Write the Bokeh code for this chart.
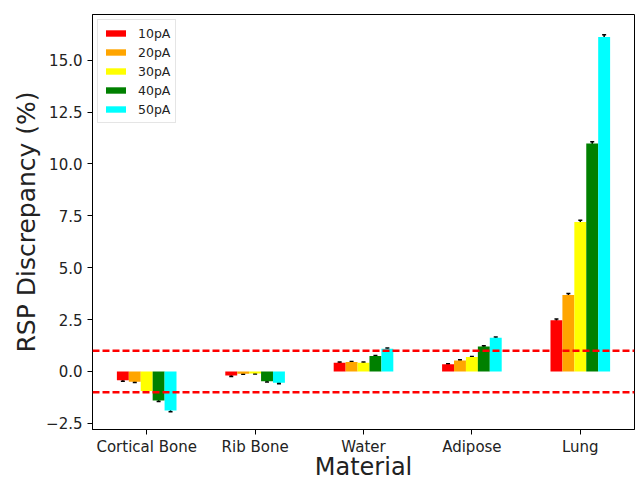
from bokeh.plotting import figure
from bokeh.models import ColumnDataSource, FixedTicker, Whisker, Span, Legend, LegendItem, TeeHead, Range1d
from bokeh.embed import file_html
from bokeh.resources import INLINE

materials = ["Cortical Bone", "Rib Bone", "Water", "Adipose", "Lung"]
series = ["10pA", "20pA", "30pA", "40pA", "50pA"]
colors = ["red", "orange", "yellow", "green", "cyan"]
v10 = [-0.43, -0.20, 0.42, 0.34, 2.46]
v20 = [-0.50, -0.11, 0.45, 0.53, 3.68]
v30 = [-0.95, -0.10, 0.42, 0.69, 7.20]
v40 = [-1.40, -0.47, 0.74, 1.20, 10.98]
v50 = [-1.88, -0.55, 1.09, 1.62, 16.12]
e10 = [0.04, 0.04, 0.03, 0.03, 0.06]
e20 = [0.04, 0.03, 0.03, 0.03, 0.07]
e30 = [0.05, 0.03, 0.03, 0.03, 0.08]
e40 = [0.05, 0.04, 0.03, 0.04, 0.09]
e50 = [0.06, 0.04, 0.04, 0.04, 0.10]
yticks = [-2.5, 0.0, 2.5, 5.0, 7.5, 10.0, 12.5, 15.0]
thresholds = [1.0, -1.0]

values = [v10, v20, v30, v40, v50]
errors = [e10, e20, e30, e40, e50]
bw = 0.11

p = figure(width=635, height=483, output_backend="svg", toolbar_location=None,
           x_range=Range1d(-0.5, 4.5), y_range=Range1d(-2.8, 17.2),
           min_border_left=92, min_border_right=1, min_border_top=14, min_border_bottom=54)

items = []
for k, (name, col, vals, errs) in enumerate(zip(series, colors, values, errors)):
    xs = [i + (k - 2) * bw for i in range(len(materials))]
    src = ColumnDataSource(dict(x=xs, top=vals,
                                up=[v + e for v, e in zip(vals, errs)],
                                lo=[v - e for v, e in zip(vals, errs)]))
    r = p.vbar(x="x", top="top", bottom=0, width=bw, fill_color=col, line_color=None, source=src)
    items.append(LegendItem(label=name, renderers=[r]))
    w = Whisker(base="x", upper="up", lower="lo", source=src, line_color="black", line_width=1.5,
                upper_head=TeeHead(size=4, line_color="black", line_width=1.5),
                lower_head=TeeHead(size=4, line_color="black", line_width=1.5))
    p.add_layout(w)

for t in thresholds:
    p.add_layout(Span(location=t, dimension="width", line_color="red", line_width=2.5, line_dash="7 3"))

p.xaxis.ticker = FixedTicker(ticks=list(range(len(materials))))
p.xaxis.major_label_overrides = {i: m for i, m in enumerate(materials)}
p.yaxis.ticker = FixedTicker(ticks=yticks)
p.yaxis.major_label_overrides = {t: ("%.1f" % t).replace("-", "\u2212") for t in yticks}

p.xaxis.axis_label = "Material"
p.yaxis.axis_label = "RSP Discrepancy (%)"
for ax in (p.xaxis[0], p.yaxis[0]):
    ax.axis_label_text_font = "DejaVu Sans"
    ax.axis_label_text_font_style = "normal"
    ax.major_label_text_font = "DejaVu Sans"
    ax.major_label_text_font_size = "15px"
    ax.major_label_text_color = "#222222"
    ax.axis_label_text_color = "#222222"
    ax.minor_tick_line_color = None
    ax.major_tick_out = 5
    ax.major_tick_in = 0
    ax.axis_line_color = "black"
    ax.major_tick_line_color = "black"
p.xaxis.axis_label_text_font_size = "24px"
p.yaxis.axis_label_text_font_size = "25px"
p.xaxis.major_label_standoff = 3
p.xaxis.axis_label_standoff = -6
p.yaxis.axis_label_standoff = 2
p.xgrid.visible = False
p.ygrid.visible = False
p.outline_line_color = "black"
p.outline_line_width = 1

legend = Legend(items=items, location="top_left")
legend.label_text_font = "DejaVu Sans"
legend.label_text_font_size = "12.5px"
legend.label_text_color = "#222222"
legend.glyph_width = 25
legend.glyph_height = 8
legend.label_height = 16
legend.spacing = 3
legend.padding = 5
legend.margin = 5
legend.border_line_color = "#cccccc"
legend.label_standoff = 10
p.add_layout(legend)

open("out.html", "w").write(file_html(p, INLINE))
